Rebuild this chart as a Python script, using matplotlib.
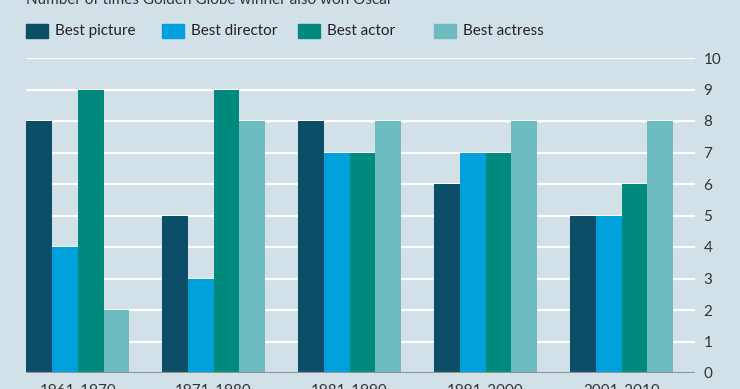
import matplotlib.pyplot as plt
import matplotlib.transforms as mtransforms
from matplotlib.patches import Rectangle
import numpy as np

plt.rcParams['font.family'] = ['Lato', 'DejaVu Sans']

decades = ["1961-1970", "1971-1980", "1981-1990", "1991-2000", "2001-2010"]
categories = ["Best picture", "Best director", "Best actor", "Best actress"]
best_picture = [8, 5, 8, 6, 5]
best_director = [4, 3, 7, 7, 5]
best_actor = [9, 9, 7, 7, 6]
best_actress = [2, 8, 8, 8, 8]
series = [best_picture, best_director, best_actor, best_actress]
colors = ["#0c4d68", "#00a1dc", "#008a7e", "#6dbdc0"]

bg = "#d2e0e7"
W, H = 740, 389
fig = plt.figure(figsize=(W / 100, H / 100), dpi=100, facecolor=bg)
ax = fig.add_axes([26 / W, 16 / H, (695 - 26) / W, (373 - 58) / H])
ax.set_facecolor(bg)

x = np.arange(len(decades))
bw = 0.19
for i, (vals, c) in enumerate(zip(series, colors)):
    ax.bar(x - 1.5 * bw + i * bw, vals, width=bw, color=c, zorder=3)

ax.set_xlim(-2 * bw, 4.54)
ax.set_ylim(0, 10)
ax.set_yticks(range(0, 11))
ax.yaxis.tick_right()
ax.tick_params(axis='y', length=0, pad=6, labelsize=11, labelcolor="#333333")
ax.set_xticks([])
ax.grid(axis='y', color='white', linewidth=1.6, zorder=1)
ax.axhline(0, color="#8a9499", linewidth=1.6, zorder=4)
for s in ax.spines.values():
    s.set_visible(False)

tr = mtransforms.blended_transform_factory(ax.transData, fig.transFigure)

# decade labels, cut at the bottom edge as in the original
for xi, lab in zip(x, decades):
    ax.text(xi, 1 - 384 / H, lab, transform=tr,
            ha='center', va='top', fontsize=11, color="#333333")

# legend aligned with the start of each group
for i, (lab, c) in enumerate(zip(categories, colors)):
    x0 = i - 2 * bw
    fig.patches.append(Rectangle((x0, 1 - 38 / H), 0.16, 14 / H, transform=tr, color=c, figure=fig))
    t = fig.text(x0, 1 - 31 / H, lab, ha='left', va='center', fontsize=11, color="#222222",
                 transform=mtransforms.offset_copy(tr, fig=fig, x=29, y=0, units='dots'))

fig.text(26 / W, 1 - 4 / H, "Number of times Golden Globe winner also won Oscar",
         ha='left', va='baseline', fontsize=11, color="#333333")

fig.savefig("out.png", dpi=100, facecolor=bg)
